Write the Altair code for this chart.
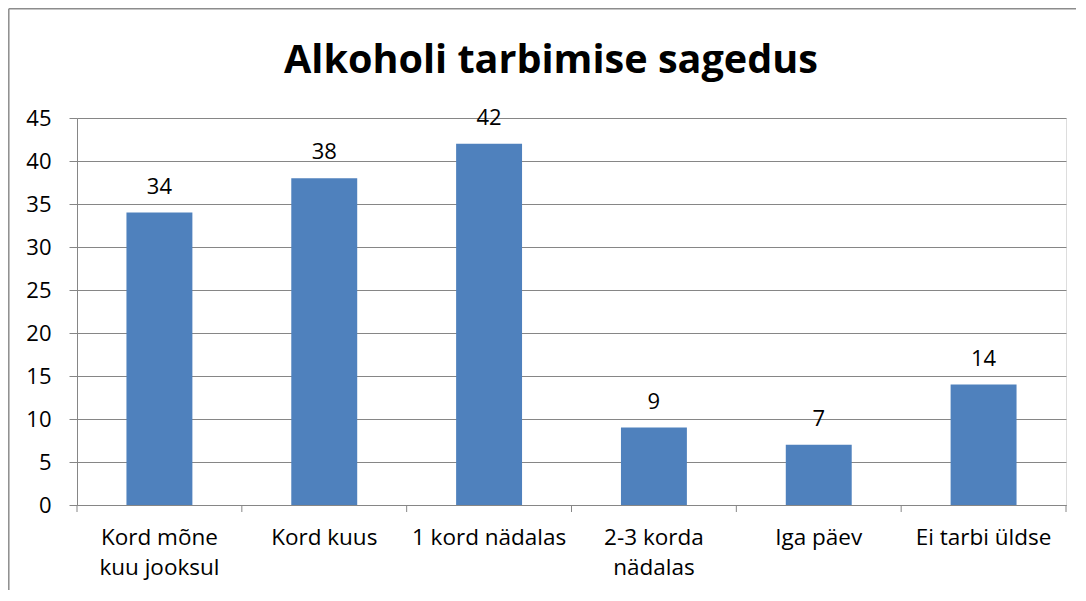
import altair as alt
import pandas as pd

categories = ["Kord mõne\nkuu jooksul", "Kord kuus", "1 kord nädalas",
              "2-3 korda\nnädalas", "Iga päev", "Ei tarbi üldse"]
values = [34, 38, 42, 9, 7, 14]
title_text = "Alkoholi tarbimise sagedus"
y_ticks = [0, 5, 10, 15, 20, 25, 30, 35, 40, 45]

W, H = 989, 387
GRAY = "#868686"
FONT = "Open Sans"

df = pd.DataFrame({"cat": categories, "val": values})

xscale = alt.Scale(domain=categories, paddingInner=0, paddingOuter=0)
yscale = alt.Scale(domain=[0, 45], nice=False)

base = alt.Chart(df)

bars = base.mark_bar(color="#4F81BD", width=alt.RelativeBandSize(0.4)).encode(
    x=alt.X("cat:N", sort=None, scale=xscale, title=None,
            axis=alt.Axis(labelExpr="split(datum.value, '\\n')", ticks=False,
                          labelAngle=0, labelFontSize=22.5, labelLineHeight=30,
                          labelPadding=21, labelColor="#000000", labelFont=FONT,
                          domainColor=GRAY, domainWidth=1, grid=False,
                          labelBaseline="top")),
    y=alt.Y("val:Q", scale=yscale, title=None,
            axis=alt.Axis(values=y_ticks, tickSize=8, tickColor=GRAY,
                          gridColor=GRAY, gridWidth=1, domainColor=GRAY,
                          labelFontSize=22, labelColor="#000000", labelFont=FONT,
                          labelPadding=18)),
)

labels = base.mark_text(fontSize=22, font=FONT, color="#000000",
                        baseline="alphabetic", dy=-19).encode(
    x=alt.X("cat:N", sort=None, scale=xscale),
    y=alt.Y("val:Q", scale=yscale),
    text="val:Q",
)

ticks_start = base.mark_rule(color=GRAY, strokeWidth=1).encode(
    x=alt.X("cat:N", sort=None, scale=xscale, bandPosition=0),
    y=alt.value(H), y2=alt.value(H + 7),
)
ticks_end = base.transform_filter(
    alt.datum.cat == categories[-1]
).mark_rule(color=GRAY, strokeWidth=1).encode(
    x=alt.X("cat:N", sort=None, scale=xscale, bandPosition=1),
    y=alt.value(H), y2=alt.value(H + 7),
)

title_df = pd.DataFrame({"t": [title_text]})
title = alt.Chart(title_df).mark_text(fontSize=39.6, font=FONT, fontWeight="bold",
                                      color="#000000", baseline="alphabetic",
                                      align="center").encode(
    text="t:N", x=alt.value(474), y=alt.value(-45))

border_left = alt.Chart(title_df).mark_rule(color="#8c8c8c", strokeWidth=1.5).encode(
    x=alt.value(-68.2), y=alt.value(-109.2), y2=alt.value(H + 130))
border_top = alt.Chart(title_df).mark_rule(color="#8c8c8c", strokeWidth=1.5).encode(
    x=alt.value(-68.2), x2=alt.value(W + 40), y=alt.value(-109.2))

chart = alt.layer(bars, labels, ticks_start, ticks_end, title, border_left, border_top).properties(
    width=W, height=H,
    autosize=alt.AutoSizeParams(type="none"),
    padding={"left": 69, "top": 110, "right": 10, "bottom": 85},
).configure_view(stroke=None).configure(background="white")

chart.save("out.html", embed_options={"renderer": "svg", "actions": False})
